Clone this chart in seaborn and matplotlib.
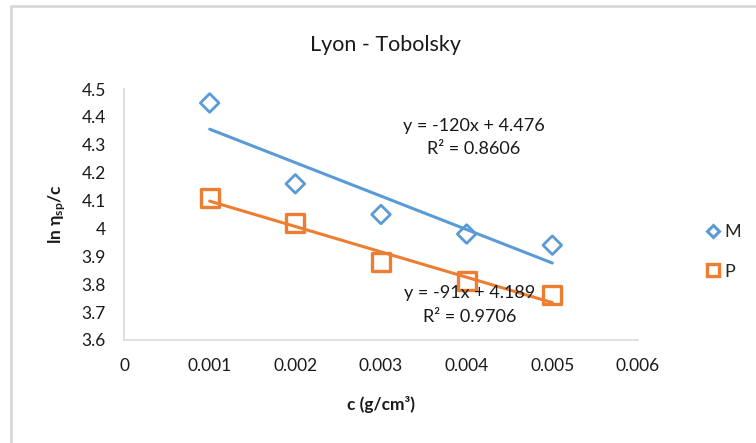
import numpy as np
import pandas as pd
import matplotlib
matplotlib.use("Agg")
import matplotlib.pyplot as plt
import seaborn as sns
from matplotlib.lines import Line2D

# ---- data ----
conc = [0.001, 0.002, 0.003, 0.004, 0.005]
m_vals = [4.45, 4.16, 4.05, 3.98, 3.94]
p_vals = [4.11, 4.02, 3.88, 3.81, 3.76]
series_names = ["M", "P"]
x_ticks = [0, 0.001, 0.002, 0.003, 0.004, 0.005, 0.006]
x_tick_labels = ["0", "0.001", "0.002", "0.003", "0.004", "0.005", "0.006"]
y_ticks = [3.6, 3.7, 3.8, 3.9, 4.0, 4.1, 4.2, 4.3, 4.4, 4.5]
y_tick_labels = ["3.6", "3.7", "3.8", "3.9", "4", "4.1", "4.2", "4.3", "4.4", "4.5"]
title = "Lyon - Tobolsky"
eq_m = "y = -120x + 4.476\nR² = 0.8606"
eq_p = "y = -91x + 4.189\nR² = 0.9706"

sns.set_theme(style="white")
FONT = "Lato"
plt.rcParams["font.family"] = [FONT, "DejaVu Sans"]
plt.rcParams["mathtext.fontset"] = "custom"
plt.rcParams["mathtext.rm"] = FONT
plt.rcParams["mathtext.bf"] = FONT + ":bold"
plt.rcParams["mathtext.it"] = FONT + ":italic"

blue = "#5B9BD5"
orange = "#ED7D31"
grey = "#D9D9D9"
txt = "#1a1a1a"
FS = 12.5

df = pd.DataFrame({"c": conc * 2, "v": m_vals + p_vals,
                   "s": [series_names[0]] * 5 + [series_names[1]] * 5})

fig = plt.figure(figsize=(7.56, 4.43), dpi=100)
ax = fig.add_axes([124 / 756, 1 - 340 / 443, (638 - 124) / 756, (340 - 89) / 443])

dm = df[df.s == "M"]
dp = df[df.s == "P"]
sns.regplot(data=dm, x="c", y="v", ax=ax, ci=None, truncate=True,
            scatter=False, line_kws=dict(color=blue, lw=2.2, zorder=2))
sns.regplot(data=dp, x="c", y="v", ax=ax, ci=None, truncate=True,
            scatter=False, line_kws=dict(color=orange, lw=2.2, zorder=2))
sns.scatterplot(data=dm, x="c", y="v", ax=ax, marker="D", s=90,
                facecolor="none", edgecolor=blue, linewidth=2.0, zorder=3)
sns.scatterplot(data=dp, x="c", y="v", ax=ax, marker="s", s=170,
                facecolor="none", edgecolor=orange, linewidth=2.4, zorder=3)

ax.set_xlim(0, 0.006)
ax.set_ylim(3.6, 4.5)
ax.set_xticks(x_ticks)
ax.set_xticklabels(x_tick_labels)
ax.set_yticks(y_ticks)
ax.set_yticklabels(y_tick_labels)
ax.tick_params(axis="both", which="both", length=5, width=1.2, color=grey,
               labelsize=FS, labelcolor=txt, direction="out")
ax.tick_params(axis="x", pad=8)
ax.tick_params(axis="y", pad=8)
for side in ["top", "right"]:
    ax.spines[side].set_visible(False)
for side in ["left", "bottom"]:
    ax.spines[side].set_color(grey)
    ax.spines[side].set_linewidth(1.2)
ax.set_facecolor("none")

ax.set_xlabel("c (g/cm³)", fontsize=FS, fontweight="bold", color=txt, labelpad=16)
ax.set_ylabel(r"ln η$_{\mathbf{sp}}$/c", fontsize=FS, fontweight="bold",
              color=txt, labelpad=10)

fig.text(385 / 756, 1 - 45 / 443, title, ha="center", va="center",
         fontsize=15.5, color=txt)

ax.text(0.00408, 4.326, eq_m, ha="center", va="center", fontsize=FS + 0.5,
        color=txt, linespacing=1.6)
ax.text(0.00404, 3.726, eq_p, ha="center", va="center", fontsize=FS + 0.5,
        color=txt, linespacing=1.6)

handles = [Line2D([], [], marker="D", ls="none", mfc="white", mec=blue, mew=2.2, ms=6),
           Line2D([], [], marker="s", ls="none", mfc="white", mec=orange, mew=2.4, ms=8)]
fig.legend(handles, series_names, loc="center left",
           bbox_to_anchor=(688 / 756, 1 - 252 / 443), frameon=False,
           fontsize=FS + 0.5, handletextpad=0.1, labelspacing=1.3, handlelength=1.0)

# chart-area border (top and left visible)
fig.add_artist(Line2D([11 / 756, 1], [1 - 5.5 / 443, 1 - 5.5 / 443],
                      transform=fig.transFigure, color=grey, lw=2))
fig.add_artist(Line2D([11 / 756, 11 / 756], [0, 1 - 5.5 / 443],
                      transform=fig.transFigure, color=grey, lw=2))

fig.savefig("out.png", dpi=100)
